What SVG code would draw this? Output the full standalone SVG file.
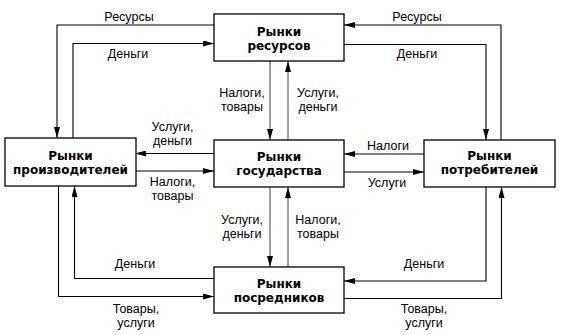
<svg xmlns="http://www.w3.org/2000/svg" width="563" height="335" viewBox="0 0 563 335">
<style>
.box{fill:#fff;stroke:#000;stroke-width:1.3}
.bt{font-family:"DejaVu Sans","Liberation Sans",Arial,sans-serif;font-weight:bold;font-size:12px;text-anchor:middle;fill:#000}
.lt{font-family:"Liberation Sans",Arial,sans-serif;font-size:12.5px;text-anchor:middle;fill:#000}
.ln{fill:none;stroke:#000;stroke-width:1.1;marker-end:url(#ah)}
.lg{fill:none;stroke:#444;stroke-width:1;marker-end:url(#ah)}
</style>
<defs>
<marker id="ah" markerUnits="userSpaceOnUse" markerWidth="11" markerHeight="6" refX="11" refY="3" orient="auto">
<path d="M0,0 L11,3 L0,6 z" fill="#000"/>
</marker>
</defs>
<rect width="563" height="335" fill="#fff"/>
<g id="connectors">
<path class="ln" d="M214,25 H57 V138"/>
<path class="ln" d="M73,138 V43.5 H214"/>
<path class="ln" d="M501,140 V25 H344"/>
<path class="ln" d="M344,44.5 H486 V140"/>
<path class="lg" d="M270,61 V140"/>
<path class="lg" d="M288,140 V61"/>
<path class="ln" d="M214,153.5 H135"/>
<path class="ln" d="M135,171 H214"/>
<path class="ln" d="M424,154 H344"/>
<path class="ln" d="M344,172 H424"/>
<path class="lg" d="M270,187 V267"/>
<path class="lg" d="M288,267 V187"/>
<path class="ln" d="M214,278.5 H74.5 V186"/>
<path class="ln" d="M58.5,186 V296.5 H214"/>
<path class="ln" d="M486,187 V281 H344"/>
<path class="ln" d="M344,298.5 H501.5 V187"/>
<text class="lt" x="129" y="21">Ресурсы</text>
<text class="lt" x="128" y="58">Деньги</text>
<text class="lt" x="417" y="21">Ресурсы</text>
<text class="lt" x="417" y="58">Деньги</text>
<text class="lt" x="242" y="97">Налоги,</text>
<text class="lt" x="242" y="111">товары</text>
<text class="lt" x="318" y="97">Услуги,</text>
<text class="lt" x="318" y="111">деньги</text>
<text class="lt" x="172.5" y="131">Услуги,</text>
<text class="lt" x="172.5" y="145">деньги</text>
<text class="lt" x="172.5" y="186">Налоги,</text>
<text class="lt" x="172.5" y="200">товары</text>
<text class="lt" x="388" y="150">Налоги</text>
<text class="lt" x="387" y="187">Услуги</text>
<text class="lt" x="242" y="224">Услуги,</text>
<text class="lt" x="242" y="238">деньги</text>
<text class="lt" x="318" y="224">Налоги,</text>
<text class="lt" x="318" y="238">товары</text>
<text class="lt" x="135" y="268">Деньги</text>
<text class="lt" x="136" y="313">Товары,</text>
<text class="lt" x="136" y="327">услуги</text>
<text class="lt" x="424" y="268">Деньги</text>
<text class="lt" x="424" y="313">Товары,</text>
<text class="lt" x="424" y="327">услуги</text>
</g>
<g id="node-resources">
<rect class="box" x="214" y="14" width="130" height="47"/>
<text class="bt" x="279" y="35.5">Рынки</text>
<text class="bt" x="279" y="49.5">ресурсов</text>
</g>
<g id="node-producers">
<rect class="box" x="5" y="138" width="131" height="48"/>
<text class="bt" x="70.5" y="159.5">Рынки</text>
<text class="bt" x="70.5" y="173.5">производителей</text>
</g>
<g id="node-state">
<rect class="box" x="214" y="140" width="130" height="47"/>
<text class="bt" x="279" y="161">Рынки</text>
<text class="bt" x="279" y="175">государства</text>
</g>
<g id="node-consumers">
<rect class="box" x="424" y="140" width="131" height="47"/>
<text class="bt" x="489.5" y="160">Рынки</text>
<text class="bt" x="489.5" y="174">потребителей</text>
</g>
<g id="node-intermediaries">
<rect class="box" x="214" y="267" width="130" height="46"/>
<text class="bt" x="279" y="288">Рынки</text>
<text class="bt" x="279" y="302">посредников</text>
</g>
</svg>
